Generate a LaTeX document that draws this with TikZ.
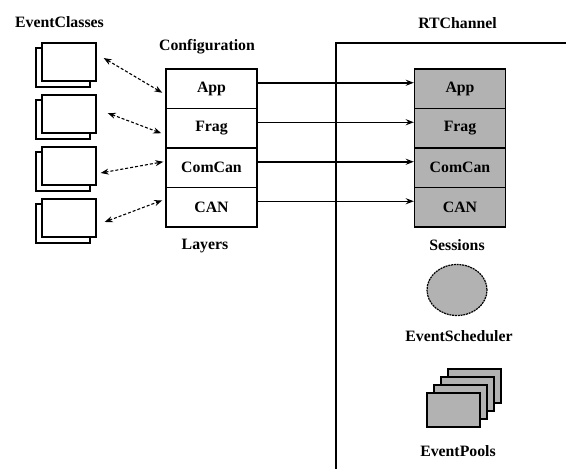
\documentclass[tikz,border=0pt]{standalone}
\usepackage{fontspec}
\setmainfont{Liberation Serif}
\usetikzlibrary{arrows.meta,shapes.geometric}
\begin{document}
\begin{tikzpicture}[x=1pt,y=-1pt,
  every node/.style={font=\fontsize{15.8}{18}\selectfont\bfseries, inner sep=0pt},
  layer/.style={draw, line width=1.4pt, minimum width=91pt, minimum height=39.5pt},
  session/.style={layer, fill=gray!60},
  iconfront/.style={draw, line width=1.3pt, fill=white, minimum width=54pt, minimum height=38pt},
  iconback/.style={draw, line width=1.3pt, fill=white, minimum width=54pt, minimum height=39pt},
  pool/.style={draw, line width=1.3pt, fill=gray!60, minimum width=53pt, minimum height=34pt},
  link/.style={line width=1.5pt, -{Stealth[length=8pt,width=6pt]}},
  assoc/.style={line width=1.1pt, dash pattern=on 3pt off 2pt, {Stealth[length=8pt,width=6pt]}-{Stealth[length=8pt,width=6pt]}},
  caption/.style={anchor=center}]
\useasboundingbox (0,0) rectangle (566,469);

% Event class icons: a back page and a front page each
\foreach \i/\y in {1/43,2/95,3/147,4/199}{
  \node[iconback] (B\i) at (63,\y+24.5) {};
  \node[iconfront] (E\i) at (69,\y+19) {};
}

% Configuration layers
\node[layer] (L1) at (211.5,88.75) {App};
\node[layer] (L2) at (211.5,128.25) {Frag};
\node[layer] (L3) at (211.5,167.75) {ComCan};
\node[layer] (L4) at (211.5,207.25) {CAN};

% RTChannel frame
\coordinate (RB) at (336,469);
\coordinate (RC) at (336,43);
\coordinate (RR) at (566,43);
\draw[line width=1.5pt] (RB) -- (RC) -- (RR);

% Sessions
\node[session] (S1) at (460,88.75) {App};
\node[session] (S2) at (460,128.25) {Frag};
\node[session] (S3) at (460,167.75) {ComCan};
\node[session] (S4) at (460,207.25) {CAN};

% Layer to session links
\foreach \i in {1,2,3,4}{
  \draw[link] ([shift={(0,-6)}]L\i.east) -- ([shift={(0,-6)}]S\i.west);
}

% Class to layer associations
\draw[assoc] ([shift={(7,-4)}]E1.east) -- ([shift={(-3,4)}]L1.west);
\draw[assoc] ([shift={(11,-1)}]E2.east) -- ([shift={(-4,5)}]L2.west);
\draw[assoc] ([shift={(4,7)}]E3.east) -- ([shift={(-2,-6)}]L3.west);
\draw[assoc] ([shift={(8,4)}]E4.east) -- ([shift={(-3,-7)}]L4.west);

% Scheduler
\node[draw, ellipse, fill=gray!60, line width=1.2pt, dash pattern=on 2pt off 0.8pt,
      minimum width=60pt, minimum height=51pt] (ES) at (457,290) {};

% Event pools
\node[pool] (P4) at (474.5,386) {};
\node[pool] (P3) at (467.5,394) {};
\node[pool] (P2) at (460.5,402) {};
\node[pool] (P1) at (453.5,410) {};

% Captions
\node[caption] (tEC) at (59.5,22) {EventClasses};
\node[caption] (tCf) at (207,47) {Configuration};
\node[caption] (tLy) at (205,246) {Layers};
\node[caption] (tRT) at (457.5,23) {RTChannel};
\node[caption] (tSe) at (457,245) {Sessions};
\node[caption] (tSc) at (459,336) {EventScheduler};
\node[caption] (tEP) at (458,451) {EventPools};
\end{tikzpicture}
\end{document}
